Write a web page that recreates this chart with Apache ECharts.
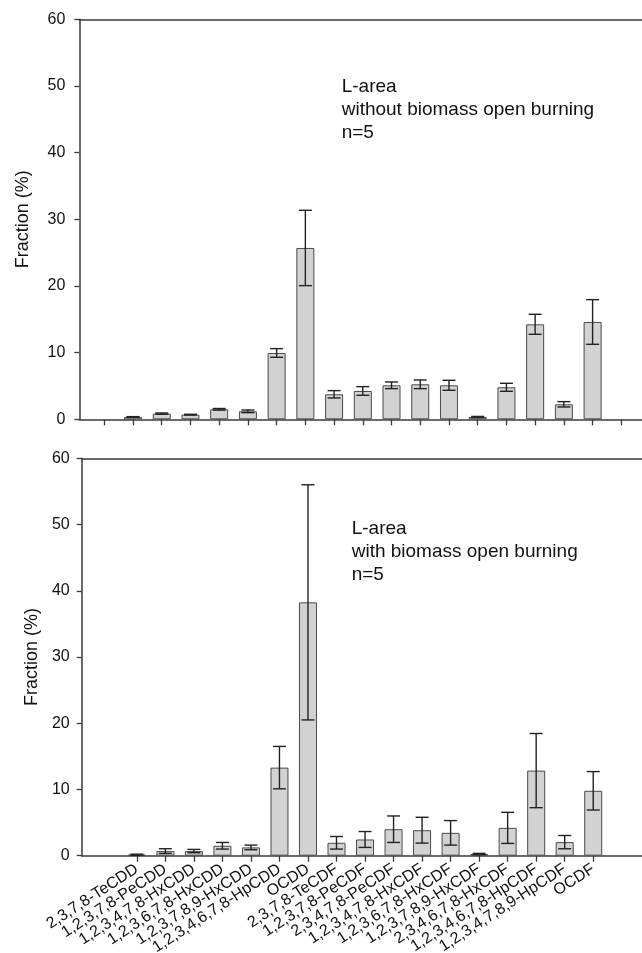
<!DOCTYPE html>
<html>
<head>
<meta charset="utf-8">
<script src="https://cdn.jsdelivr.net/npm/echarts@6/dist/echarts.min.js"></script>
<style>
html,body{margin:0;padding:0;background:#fff;}
#c{width:642px;height:953px;}
</style>
</head>
<body>
<div id="c"></div>
<script>
// ---- data ----
var categories = ['2,3,7,8-TeCDD', '1,2,3,7,8-PeCDD', '1,2,3,4,7,8-HxCDD', '1,2,3,6,7,8-HxCDD',
  '1,2,3,7,8,9-HxCDD', '1,2,3,4,6,7,8-HpCDD', 'OCDD', '2,3,7,8-TeCDF', '1,2,3,7,8-PeCDF',
  '2,3,4,7,8-PeCDF', '1,2,3,4,7,8-HxCDF', '1,2,3,6,7,8-HxCDF', '1,2,3,7,8,9-HxCDF',
  '2,3,4,6,7,8-HxCDF', '1,2,3,4,6,7,8-HpCDF', '1,2,3,4,7,8,9-HpCDF', 'OCDF'];
var withoutMean = [0.35, 0.85, 0.7, 1.5, 1.2, 9.95, 25.7, 3.75, 4.25, 5.1, 5.25, 5.1, 0.35, 4.8, 14.25, 2.25, 14.6];
var withoutErr  = [0.05, 0.1, 0.05, 0.12, 0.2, 0.65, 5.65, 0.55, 0.65, 0.5, 0.65, 0.75, 0.08, 0.6, 1.5, 0.4, 3.35];
var withMean = [0.15, 0.7, 0.7, 1.5, 1.25, 13.3, 38.25, 1.95, 2.45, 4.0, 3.85, 3.45, 0.25, 4.2, 12.85, 2.05, 9.8];
var withErr  = [0.08, 0.35, 0.25, 0.5, 0.35, 3.2, 17.75, 0.95, 1.2, 2.0, 1.95, 1.85, 0.1, 2.35, 5.6, 1.0, 2.9];
var yTickValues = [0, 10, 20, 30, 40, 50, 60];
var topNote = 'L-area\nwithout biomass open burning\nn=5';
var bottomNote = 'L-area\nwith biomass open burning\nn=5';
var yTitle = 'Fraction (%)';

// ---- build ----
var FONT = "'Liberation Sans', Arial, sans-serif";
var AX = '#3a3a3a';
var tickPositions = [];
for (var t = 0; t <= categories.length + 1; t++) tickPositions.push(t);
// label slots: empty edge slots (0 and n+1) so that min/max-label handling never hides a real name
var labelPositions = tickPositions.slice();

function barData(means) { return means.map(function (v, i) { return [i + 1, v]; }); }
function errData(means, errs) { return means.map(function (v, i) { return [i + 1, v, errs[i]]; }); }

function errRender(params, api) {
  var x = api.value(0), m = api.value(1), e = api.value(2);
  var p1 = api.coord([x, m + e]);
  var p2 = api.coord([x, m - e]);
  var hw = 6.5;
  var st = { stroke: '#222', lineWidth: 1.4 };
  return {
    type: 'group',
    children: [
      { type: 'line', shape: { x1: p1[0], y1: p1[1], x2: p2[0], y2: p2[1] }, style: st },
      { type: 'line', shape: { x1: p1[0] - hw, y1: p1[1], x2: p1[0] + hw, y2: p1[1] }, style: st },
      { type: 'line', shape: { x1: p2[0] - hw, y1: p2[1], x2: p2[0] + hw, y2: p2[1] }, style: st }
    ]
  };
}

function xAxisFor(gridIndex, min, max, showLabels) {
  return {
    type: 'value', gridIndex: gridIndex, min: min, max: max, position: 'bottom',
    splitLine: { show: false },
    axisLine: { show: true, onZero: false, lineStyle: { color: AX, width: 1.5 } },
    axisTick: { show: true, inside: false, length: 6, customValues: tickPositions, lineStyle: { color: AX, width: 1.3 } },
    axisLabel: showLabels ? {
      show: true, customValues: labelPositions, rotate: 33, margin: 12,
      showMinLabel: false, showMaxLabel: false, hideOverlap: false,
      fontFamily: FONT, fontSize: 16, color: '#111',
      formatter: function (v) { return categories[Math.round(v) - 1] || ''; }
    } : { show: false }
  };
}
function topFrame(gridIndex, min, max) {
  return {
    type: 'value', gridIndex: gridIndex, min: min, max: max, position: 'top',
    splitLine: { show: false },
    axisLine: { show: true, onZero: false, lineStyle: { color: AX, width: 1.5 } },
    axisTick: { show: false }, axisLabel: { show: false }
  };
}
function yAxisFor(gridIndex, margin, nameGap) {
  return {
    type: 'value', gridIndex: gridIndex, min: yTickValues[0], max: yTickValues[yTickValues.length - 1], interval: 10,
    name: yTitle, nameLocation: 'middle', nameGap: nameGap,
    nameTextStyle: { fontFamily: FONT, fontSize: 18, color: '#111' },
    splitLine: { show: false },
    axisLine: { show: true, onZero: false, lineStyle: { color: AX, width: 1.5 } },
    axisTick: { show: true, inside: false, length: 5, lineStyle: { color: AX, width: 1.3 } },
    axisLabel: { fontFamily: FONT, fontSize: 16, color: '#111', margin: margin }
  };
}

var barStyle = { color: '#d2d2d2', borderColor: '#4a4a4a', borderWidth: 1 };

var option = {
  animation: false,
  backgroundColor: '#fff',
  grid: [
    { left: 79.3, right: 0, top: 19.3, height: 400, containLabel: false, outerBoundsMode: 'none' },
    { left: 81.7, right: 0, top: 458.3, height: 397.4, containLabel: false, outerBoundsMode: 'none' }
  ],
  xAxis: [
    xAxisFor(0, -0.870, 18.72, false),
    xAxisFor(1, -0.933, 18.71, true),
    topFrame(0, -0.870, 18.72),
    topFrame(1, -0.933, 18.71)
  ],
  yAxis: [ yAxisFor(0, 14, 47), yAxisFor(1, 12, 40) ],
  graphic: [
    { type: 'text', left: 341.7, top: 75, style: { text: topNote, font: '19px ' + FONT, fill: '#111', lineHeight: 23.3 } },
    { type: 'text', left: 351.7, top: 516.7, style: { text: bottomNote, font: '19px ' + FONT, fill: '#111', lineHeight: 23.3 } }
  ],
  series: [
    { type: 'bar', xAxisIndex: 0, yAxisIndex: 0, barWidth: 18, data: barData(withoutMean), itemStyle: barStyle, z: 2 },
    { type: 'custom', xAxisIndex: 0, yAxisIndex: 0, renderItem: errRender, data: errData(withoutMean, withoutErr), encode: { x: 0, y: [1] }, z: 3 },
    { type: 'bar', xAxisIndex: 1, yAxisIndex: 1, barWidth: 18, data: barData(withMean), itemStyle: barStyle, z: 2 },
    { type: 'custom', xAxisIndex: 1, yAxisIndex: 1, renderItem: errRender, data: errData(withMean, withErr), encode: { x: 0, y: [1] }, z: 3 }
  ]
};
var chart = echarts.init(document.getElementById('c'), null, { renderer: 'canvas' });
chart.setOption(option);
</script>
</body>
</html>
